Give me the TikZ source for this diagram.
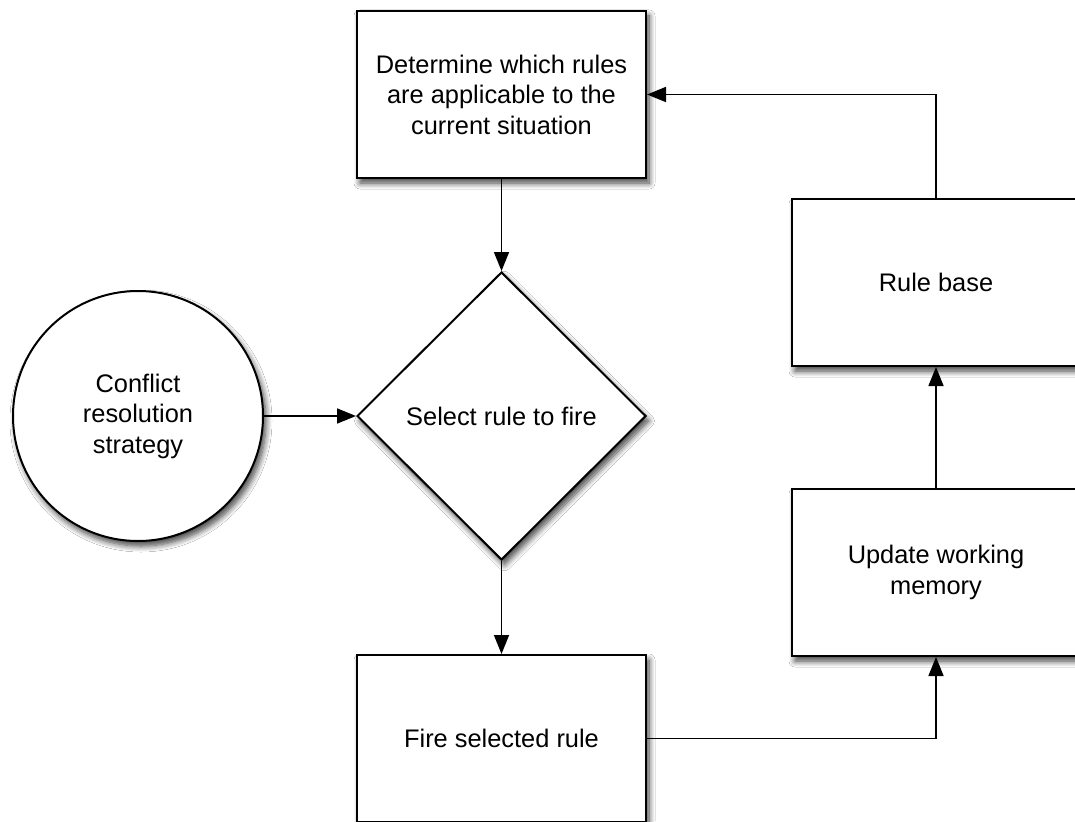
\documentclass[tikz,border=0pt]{standalone}
\usepackage{fontspec}
\setmainfont{Liberation Sans}
\usetikzlibrary{shapes.geometric,arrows.meta,shadows.blur}
\begin{document}
\begin{tikzpicture}[x=1pt,y=-1pt,
  every node/.style={font=\fontsize{25.4}{30.5}\selectfont, align=center},
  shad/.style={blur shadow={shadow xshift=3pt,shadow yshift=-5pt,shadow blur radius=6pt,shadow blur steps=8,shadow opacity=75}},
  box/.style={draw=black, fill=white, line width=2pt, rectangle, minimum width=289pt, minimum height=167pt, inner sep=0pt, shad},
  dia/.style={draw=black, fill=white, line width=2pt, diamond, minimum width=289pt, minimum height=288pt, inner sep=0pt, shad},
  circ/.style={draw=black, fill=white, line width=2pt, circle, minimum size=250pt, inner sep=0pt, shad},
  arr/.style={line width=1.6pt, -{Triangle[length=19pt,width=15pt]}}
]
\fill[white] (0,0) rectangle (1075,821);
\useasboundingbox (0,0) rectangle (1075,821);
\clip (0,0) rectangle (1075,821);
\node[box] (top) at (501.5,94.5) {Determine which rules\\are applicable to the\\current situation};
\node[dia] (sel) at (501.5,416) {Select rule to fire};
\node[circ] (crs) at (138,416) {Conflict\\resolution\\strategy};
\node[box, minimum width=288pt] (rb) at (936,282.5) {Rule base};
\node[box, minimum width=288pt] (upd) at (936,572.5) {Update working\\memory};
\node[box] (fire) at (501.5,738.5) {Fire selected rule};
\draw[arr] (top.south) -- (sel.north);
\draw[arr] (sel.south) -- (fire.north);
\draw[arr] (crs.east) -- (sel.west);
\draw[arr] (fire.east) -| (upd.south);
\draw[arr] (upd.north) -- (rb.south);
\draw[arr] (rb.north) |- (top.east);
\end{tikzpicture}
\end{document}
